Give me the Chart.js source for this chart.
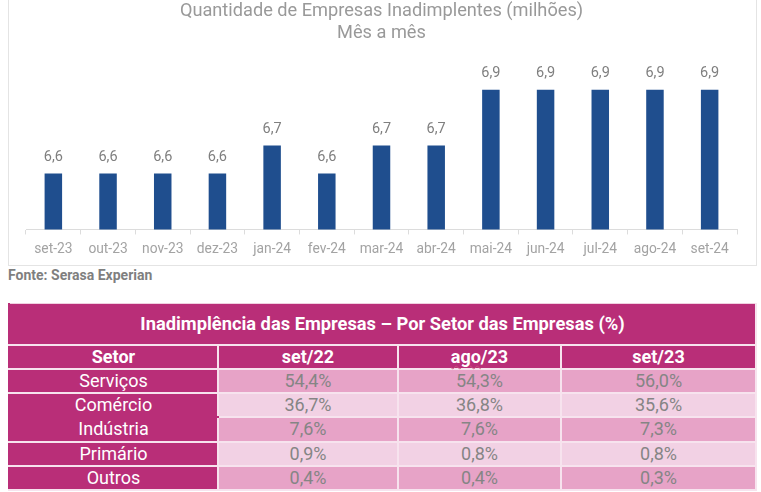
<!DOCTYPE html>
<html>
<head>
<meta charset="utf-8">
<script src="https://cdn.jsdelivr.net/npm/chart.js@4.4.1/dist/chart.umd.min.js"></script>
<style>
  html, body { margin: 0; padding: 0; background: #fff; width: 761px; height: 492px; overflow: hidden; font-family: Roboto, "Noto Sans", sans-serif; }
  #box { position: absolute; left: 8px; top: -1px; width: 749px; height: 267px; box-sizing: border-box; border: 1px solid #e4e4e4; }
  #c { position: absolute; left: 8px; top: 0px; }
  #fonte { position: absolute; left: 8px; top: 266px; font-size: 14px; font-weight: 700; color: #7f7f7f; line-height: 18px; }
  table { position: absolute; left: 8px; top: 303px; width: 747px; border-collapse: collapse; table-layout: fixed; }
  td, th { padding: 0; text-align: center; border: 2px solid #f7e3ee; font-size: 18px; line-height: 20px; }
  .ttl { background: #b92e78; color: #fff; font-weight: 700; height: 40px; border-top: 1px solid #f0d0e0; border-left-color: #b92e78 !important; font-size: 18.3px; }
  .hd th { background: #b92e78; color: #fff; font-weight: 700; height: 22px; }
  .hd th:first-child { border-left-color: #b92e78; }
  td.s { background: #b92e78; color: #fff; border-left-color: #b92e78; }
  td.v { color: #858585; }
  tr.m td.v { background: #e7a3c7; }
  tr.l td.v { background: #f2d1e4; }
  tr.dr td { height: 22.2px; }
  td.nb { border-bottom-color: #b92e78; }
  .ago { text-decoration: underline wavy rgba(200,90,120,0.9); text-decoration-thickness: 1px; text-underline-offset: 2px; }
</style>
</head>
<body>
<div id="box"></div>
<canvas id="c" width="749" height="266"></canvas>
<div id="fonte">Fonte: Serasa Experian</div>
<table id="tbl"></table>
<script>
const months = ['set-23','out-23','nov-23','dez-23','jan-24','fev-24','mar-24','abr-24','mai-24','jun-24','jul-24','ago-24','set-24'];
const empresas = [6.6, 6.6, 6.6, 6.6, 6.7, 6.6, 6.7, 6.7, 6.9, 6.9, 6.9, 6.9, 6.9];
const chartTitle = ['Quantidade de Empresas Inadimplentes (milhões)', 'Mês a mês'];

const tableTitle = 'Inadimplência das Empresas – Por Setor das Empresas (%)';
const periods = ['set/22', 'ago/23', 'set/23'];
const sectors = ['Serviços', 'Comércio', 'Indústria', 'Primário', 'Outros'];
const set22 = [54.4, 36.7, 7.6, 0.9, 0.4];
const ago23 = [54.3, 36.8, 7.6, 0.8, 0.4];
const set23 = [56.0, 35.6, 7.3, 0.8, 0.3];

const fmt = v => v.toFixed(1).replace('.', ',');

const valueLabels = {
  id: 'valueLabels',
  afterDatasetsDraw(chart) {
    const ctx = chart.ctx;
    const meta = chart.getDatasetMeta(0);
    ctx.save();
    ctx.font = '14.5px Roboto, sans-serif';
    ctx.fillStyle = '#7f7f7f';
    ctx.textAlign = 'center';
    ctx.textBaseline = 'middle';
    meta.data.forEach((bar, i) => {
      ctx.fillText(fmt(chart.data.datasets[0].data[i]), bar.x, bar.y - 16);
    });
    ctx.restore();
  }
};

new Chart(document.getElementById('c'), {
  type: 'bar',
  data: {
    labels: months,
    datasets: [{
      data: empresas,
      backgroundColor: '#1f4e8e',
      categoryPercentage: 1,
      barPercentage: 0.32
    }]
  },
  options: {
    responsive: false,
    animation: false,
    layout: { padding: { left: 18, right: 20, top: 0, bottom: 1 } },
    plugins: {
      legend: { display: false },
      tooltip: { enabled: false },
      title: {
        display: true,
        text: chartTitle,
        color: '#999999',
        font: { family: 'Roboto', size: 18.2, weight: '400', lineHeight: 1.2 },
        padding: { top: 0.5, bottom: 17.5 }
      }
    },
    scales: {
      y: { display: false, min: 6.4, max: 7.0 },
      x: {
        grid: { offset: true, drawOnChartArea: false, drawTicks: true, tickLength: 5, color: '#dcdcdc' },
        border: { display: true, color: '#dcdcdc' },
        ticks: { color: '#a3a3a3', font: { family: 'Roboto', size: 13.8 }, padding: 7, maxRotation: 0, autoSkip: false }
      }
    }
  },
  plugins: [valueLabels]
});

// table
const tbl = document.getElementById('tbl');
let html = '<colgroup><col style="width:209px"><col style="width:180px"><col style="width:163px"><col style="width:195px"></colgroup>';
html += '<tr><th class="ttl" colspan="4">' + tableTitle + '</th></tr>';
html += '<tr class="hd"><th>Setor</th>' + periods.map(p => '<th>' + (p === 'ago/23' ? '<span class="ago">ago</span>/23' : p) + '</th>').join('') + '</tr>';
sectors.forEach((s, i) => {
  const cls = i % 2 === 0 ? 'm' : 'l';
  html += '<tr class="dr ' + cls + '"><td class="s' + (i === 1 ? ' nb' : '') + '">' + s + '</td>' +
    '<td class="v">' + fmt(set22[i]) + '%</td>' +
    '<td class="v">' + fmt(ago23[i]) + '%</td>' +
    '<td class="v">' + fmt(set23[i]) + '%</td></tr>';
});
tbl.innerHTML = html;
</script>
</body>
</html>
